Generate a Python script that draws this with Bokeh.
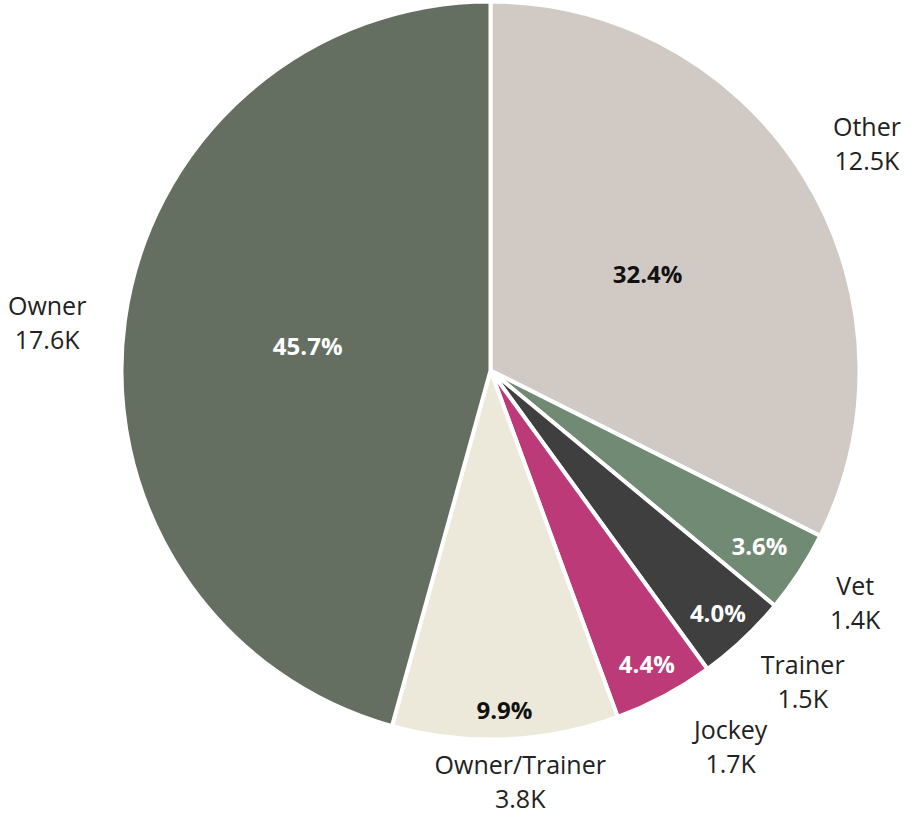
import math
from bokeh.plotting import figure
from bokeh.models import Range1d, ColumnDataSource
from bokeh.core.properties import value
from bokeh.embed import file_html
from bokeh.resources import INLINE

categories = ["Other", "Vet", "Trainer", "Jockey", "Owner/Trainer", "Owner"]
counts = ["12.5K", "1.4K", "1.5K", "1.7K", "3.8K", "17.6K"]
percents = [32.4, 3.6, 4.0, 4.4, 9.9, 45.7]
colors = ["#d1cac4", "#718a73", "#3f3f3f", "#bd3a79", "#ece9da", "#646f61"]
pct_colors = ["#111111", "#ffffff", "#ffffff", "#ffffff", "#111111", "#ffffff"]

W, H = 902, 817
cx, cy, R = 490, 447, 369
inner_frac = [0.5, 0.87, 0.9, 0.9, 0.92, 0.5]
outer_r = [440, 432, 440, 446, 412, 446]
outer_nudge = [-0.5, 0.7, 2.0, 4.5, 1.8, 1.5]   # degrees

p = figure(width=W, height=H, x_range=Range1d(0, W), y_range=Range1d(0, H),
           output_backend="svg", toolbar_location=None, min_border=0)
p.axis.visible = False
p.grid.visible = False
p.outline_line_color = None
p.background_fill_color = "white"

total = sum(percents)
starts, ends, mids = [], [], []
cum = 0.0
for v in percents:
    a0 = math.pi / 2 - 2 * math.pi * cum / total
    cum += v
    a1 = math.pi / 2 - 2 * math.pi * cum / total
    starts.append(a1)
    ends.append(a0)
    mids.append((a0 + a1) / 2)

src = ColumnDataSource(dict(start=starts, end=ends, color=colors))
p.wedge(x=cx, y=cy, radius=R, start_angle="start", end_angle="end",
        fill_color="color", line_color="white", line_width=4, source=src)

px = [cx + f * R * math.cos(m) for f, m in zip(inner_frac, mids)]
py = [cy + f * R * math.sin(m) for f, m in zip(inner_frac, mids)]
p.text(x=px, y=py, text=[f"{v:.1f}%" for v in percents], text_color=pct_colors,
       text_font=value("Open Sans"), text_font_style="bold", text_font_size="24px",
       text_align="center", text_baseline="middle")

ox = [cx + r * math.cos(m + math.radians(n)) for r, m, n in zip(outer_r, mids, outer_nudge)]
oy = [cy + r * math.sin(m + math.radians(n)) for r, m, n in zip(outer_r, mids, outer_nudge)]
p.text(x=ox, y=oy, text=[f"{c}\n{k}" for c, k in zip(categories, counts)],
       text_color="#222222", text_font=value("Open Sans"), text_font_size="25px",
       text_align="center", text_baseline="middle", text_line_height=1.0)

open("out.html", "w").write(file_html(p, INLINE))
